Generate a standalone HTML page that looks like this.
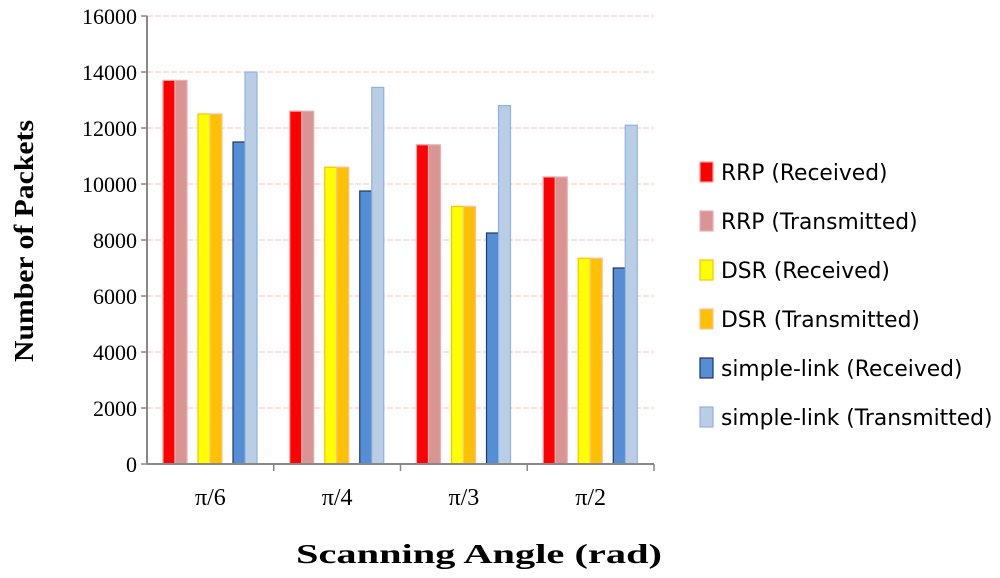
<!DOCTYPE html>
<html><head><meta charset="utf-8"><style>
body{margin:0;background:#fff;}
svg{display:block;font-family:"Liberation Serif",serif;}
</style></head><body>
<svg id="chart" width="1000" height="578">
<g id="grid"></g>
<g id="bars"></g>
<g id="axes"></g>
<text x="296" y="563" textLength="366" lengthAdjust="spacingAndGlyphs" font-size="27" font-weight="bold">Scanning Angle (rad)</text>
<text transform="translate(33,362) rotate(-90)" textLength="242" lengthAdjust="spacingAndGlyphs" font-size="27" font-weight="bold">Number of Packets</text>
<g id="legend" font-family="'DejaVu Sans',sans-serif"></g>
</svg>
<script>
const categories=["π/6","π/4","π/3","π/2"];
const rrpRec=[13700,12600,11400,10250];
const rrpTx=[13700,12600,11400,10250];
const dsrRec=[12500,10600,9200,7350];
const dsrTx=[12500,10600,9200,7350];
const slRec=[11500,9750,8250,7000];
const slTx=[14000,13450,12800,12100];
const yTicks=[0,2000,4000,6000,8000,10000,12000,14000,16000];
const seriesNames=["RRP (Received)","RRP (Transmitted)","DSR (Received)","DSR (Transmitted)","simple-link (Received)","simple-link (Transmitted)"];
const series=[rrpRec,rrpTx,dsrRec,dsrTx,slRec,slTx];
const fills=["#ff0000","#d99594","#ffff00","#ffc000","#558ed5","#b9cde5"];
const strokes=["#f4a0a0","#e6b0b0","#ffc000","#f8c0a0","#1f3864","#8db3e2"];
const offsets=[16,28,51,63,86,98];
const NS="http://www.w3.org/2000/svg";
const x0=147,x1=654,yTop=16,yBot=464,yMax=16000,bw=12;
const gw=(x1-x0)/categories.length;
const y=v=>yBot-(v/yMax)*(yBot-yTop);
function mk(t,a,p){const e=document.createElementNS(NS,t);for(const k in a)e.setAttribute(k,a[k]);p.appendChild(e);return e;}
const grid=document.getElementById('grid'),axes=document.getElementById('axes'),bars=document.getElementById('bars'),leg=document.getElementById('legend');
yTicks.forEach(v=>{
 if(v>0){const l=mk('line',{x1:x0,x2:x1,y1:y(v),y2:y(v),stroke:'#f2c4c4','stroke-width':1,'stroke-dasharray':'6,2'},grid);
 
 }
 const t=mk('line',{x1:x0-6,x2:x0,y1:y(v),y2:y(v),stroke:'#888','stroke-width':1.5},axes);
 
 
 const tx=mk('text',{x:x0-10,y:y(v)+8,'text-anchor':'end','font-size':22},axes);tx.textContent=v;
 
 
});
mk('line',{x1:x0,x2:x0,y1:yTop,y2:yBot,stroke:'#888','stroke-width':2},axes);
mk('line',{x1:x0,x2:x1,y1:yBot,y2:yBot,stroke:'#888','stroke-width':2},axes);
categories.forEach((c,i)=>{
 const gx=x0+i*gw;
 const t=mk('line',{x1:gx+gw,x2:gx+gw,y1:yBot,y2:yBot+7,stroke:'#888','stroke-width':1.5},axes);
 
 
 const tx=mk('text',{x:gx+gw/2,y:505,'text-anchor':'middle','font-size':24},axes);tx.textContent=c;
 
 
 series.forEach((s,j)=>{
  const r=mk('rect',{x:gx+offsets[j],y:y(s[i]),width:bw,height:yBot-y(s[i]),fill:fills[j],stroke:strokes[j],'stroke-width':1.2},bars);
  
  
 });
});
seriesNames.forEach((n,j)=>{
 const ly=172+j*49;
 const r=mk('rect',{x:700,y:ly-10,width:13,height:20,fill:fills[j],stroke:strokes[j],'stroke-width':1.2},leg);
 
 
 const t=mk('text',{x:721,y:ly+8,'font-size':21.8},leg);t.textContent=n;
 
 
});
</script>
</body></html>
